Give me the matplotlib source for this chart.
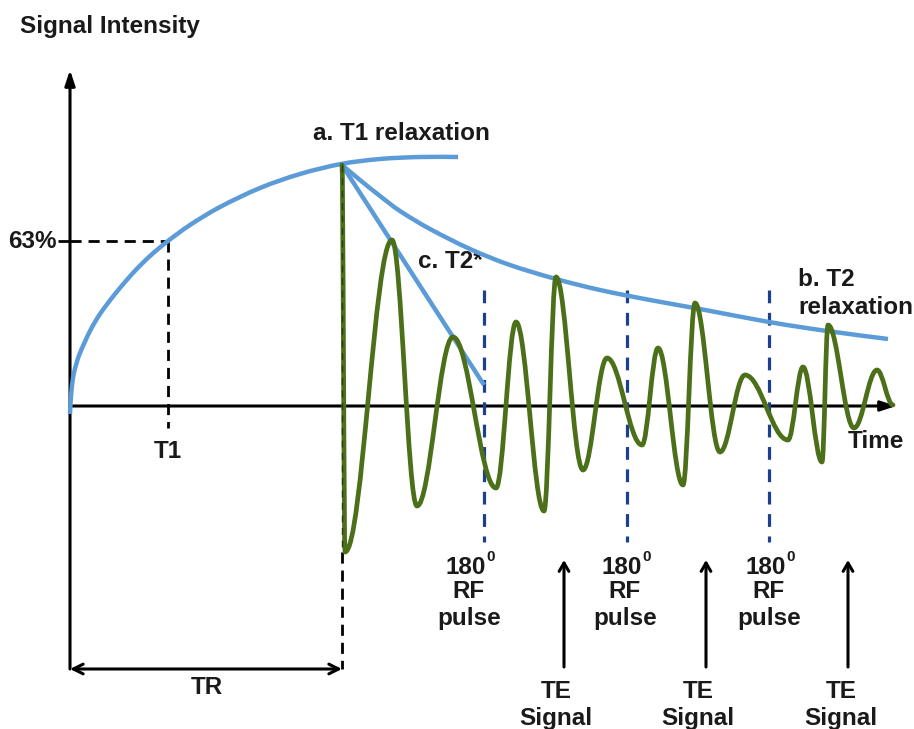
import matplotlib
matplotlib.use("Agg")
import matplotlib.pyplot as plt
from matplotlib.path import Path
from matplotlib.patches import PathPatch

plt.rcParams['font.family'] = ['Liberation Sans', 'DejaVu Sans']

# ---------------- data (time units from origin, signal units above baseline) -------------
t1_time = [0, 1, 3, 6, 10, 20, 30, 45, 63, 80, 98, 120, 150, 190, 230, 271, 310, 350, 388]
t1_signal = [-8, 10, 28, 41, 53, 75, 92, 112, 133, 150, 165, 181, 199, 218, 232, 242, 247, 249, 249]

t1_point = 98          # time where 63% is reached
t1_level = 165         # 63% signal level
tr_time = 272          # repetition time

# extrema of the oscillating signal (FID / echoes)
fid_time = [272, 275, 322, 347, 383, 426, 446, 474, 486, 513, 537, 572, 588, 613,
            625, 650, 675, 718, 733, 752, 758, 784, 807, 823]
fid_signal = [241, -146, 166, -100, 69, -82, 84, -105, 129, -64, 48, -39, 58, -79,
              103, -46, 31, -34, 39, -56, 81, -22, 36, 1]

t2_time = [272, 290, 310, 330, 360, 400, 440, 486, 530, 580, 630, 699, 757, 818]
t2_signal = [241, 226, 210, 195, 177, 157, 141, 127, 116, 106, 97, 84, 75, 67]

t2star_time = [272, 414]
t2star_signal = [241, 21]

rf_pulse_times = [414, 557, 699]
rf_top, rf_bottom = 116, -136
te_times = [494, 636, 778]

BLUE = '#5b9bd8'
NAVY = '#1c3f8f'
GREEN = '#4b7019'
TXT = '#1a1a1a'
FS = 17.5


def smooth_path(xs, ys):
    """Catmull-Rom spline through points, as cubic Bezier path."""
    pts = list(zip(xs, ys))
    verts = [pts[0]]
    codes = [Path.MOVETO]
    n = len(pts)
    for i in range(n - 1):
        p0 = pts[i - 1] if i > 0 else pts[i]
        p1 = pts[i]
        p2 = pts[i + 1]
        p3 = pts[i + 2] if i + 2 < n else pts[i + 1]
        c1 = (p1[0] + (p2[0] - p0[0]) / 6, p1[1] + (p2[1] - p0[1]) / 6)
        c2 = (p2[0] - (p3[0] - p1[0]) / 6, p2[1] - (p3[1] - p1[1]) / 6)
        verts += [c1, c2, p2]
        codes += [Path.CURVE4] * 3
    return Path(verts, codes)


def wave_path(xs, ys, k=0.37):
    """Wave through extrema with horizontal tangents at each extremum."""
    verts = [(xs[0], ys[0])]
    codes = [Path.MOVETO]
    for i in range(len(xs) - 1):
        dx = xs[i + 1] - xs[i]
        verts += [(xs[i] + k * dx, ys[i]), (xs[i + 1] - k * dx, ys[i + 1]), (xs[i + 1], ys[i + 1])]
        codes += [Path.CURVE4] * 3
    return Path(verts, codes)


fig = plt.figure(figsize=(9.14, 7.29), dpi=100)
ax = fig.add_axes([0, 0, 1, 1])
ax.set_xlim(-70, 844)
ax.set_ylim(-323, 406)
ax.axis('off')

# axes
ax.annotate('', xy=(0, 336), xytext=(0, -263),
            arrowprops=dict(arrowstyle='-|>,head_length=0.9,head_width=0.3', lw=2.2,
                            color='black', shrinkA=0, shrinkB=0), zorder=2)
ax.annotate('', xy=(826, 0), xytext=(0, 0),
            arrowprops=dict(arrowstyle='-|>,head_length=0.9,head_width=0.3', lw=2.2,
                            color='black', shrinkA=0, shrinkB=0), zorder=2)

# 63% marker
ax.plot([-12, 0], [t1_level, t1_level], color='black', lw=2, solid_capstyle='butt')
ax.plot([0, t1_point], [t1_level, t1_level], color='black', lw=2, ls=(0, (4, 2.5)))
ax.plot([t1_point, t1_point], [t1_level, -22], color='black', lw=2, ls=(0, (4, 2.5)))

# TR
ax.plot([tr_time, tr_time], [fid_signal[1], -263], color='black', lw=2, ls=(0, (4, 2.5)))
ax.annotate('', xy=(tr_time, -263), xytext=(0, -263),
            arrowprops=dict(arrowstyle='<->,head_length=0.7,head_width=0.35', lw=2.2,
                            color='black', shrinkA=0, shrinkB=0))

# RF pulse dashed lines
for t in rf_pulse_times:
    ax.plot([t, t], [rf_top, rf_bottom], color=NAVY, lw=2.3, ls=(0, (4, 3)), zorder=3)

# blue curves
ax.add_patch(PathPatch(smooth_path(t1_time, t1_signal), fill=False, ec=BLUE, lw=3.2,
                       capstyle='butt', zorder=4))
ax.add_patch(PathPatch(smooth_path(t2_time, t2_signal), fill=False, ec=BLUE, lw=3.2,
                       capstyle='butt', zorder=4))
ax.plot(t2star_time, t2star_signal, color=BLUE, lw=3.2, solid_capstyle='butt', zorder=4)

# green signal
ax.add_patch(PathPatch(wave_path(fid_time, fid_signal), fill=False, ec=GREEN, lw=3.4,
                       joinstyle='round', capstyle='round', zorder=5))
ax.plot([tr_time, tr_time], [fid_signal[0], fid_signal[1]], color='#2b3a12', lw=1.0,
        ls=(0, (5, 4)), zorder=6)

# TE arrows
for t in te_times:
    ax.annotate('', xy=(t, -154), xytext=(t, -261),
                arrowprops=dict(arrowstyle='->,head_length=0.6,head_width=0.35', lw=2.2,
                                color='black', shrinkA=0, shrinkB=0))

# texts
kw = dict(fontsize=FS, fontweight='bold', color=TXT)
ax.text(-50, 379, 'Signal Intensity', ha='left', va='center', **kw)
ax.text(-13, t1_level, '63%', ha='right', va='center', **kw)
ax.text(t1_point, -45, 'T1', ha='center', va='center', **kw)
ax.text(137, -282, 'TR', ha='center', va='center', **kw)
ax.text(243, 272, 'a. T1 relaxation', ha='left', va='center', **kw)
ax.text(348, 144, 'c. T2*', ha='left', va='center', **kw)
ax.text(728, 126, 'b. T2', ha='left', va='center', **kw)
ax.text(728, 99, 'relaxation', ha='left', va='center', **kw)
ax.text(778, -36, 'Time', ha='left', va='center', **kw)

rf_label_x = [399, 555, 699]
for xc in rf_label_x:
    ax.text(xc + 17, -161, '180', ha='right', va='center', **kw)
    ax.text(xc + 17, -151, '0', ha='left', va='center', fontsize=11, fontweight='bold', color=TXT)
    ax.text(xc, -186, 'RF', ha='center', va='center', **kw)
    ax.text(xc, -212, 'pulse', ha='center', va='center', **kw)

te_label_x = [486, 628, 771]
for xc in te_label_x:
    ax.text(xc, -286, 'TE', ha='center', va='center', **kw)
    ax.text(xc, -312, 'Signal', ha='center', va='center', **kw)

fig.savefig('out.png', dpi=100)
